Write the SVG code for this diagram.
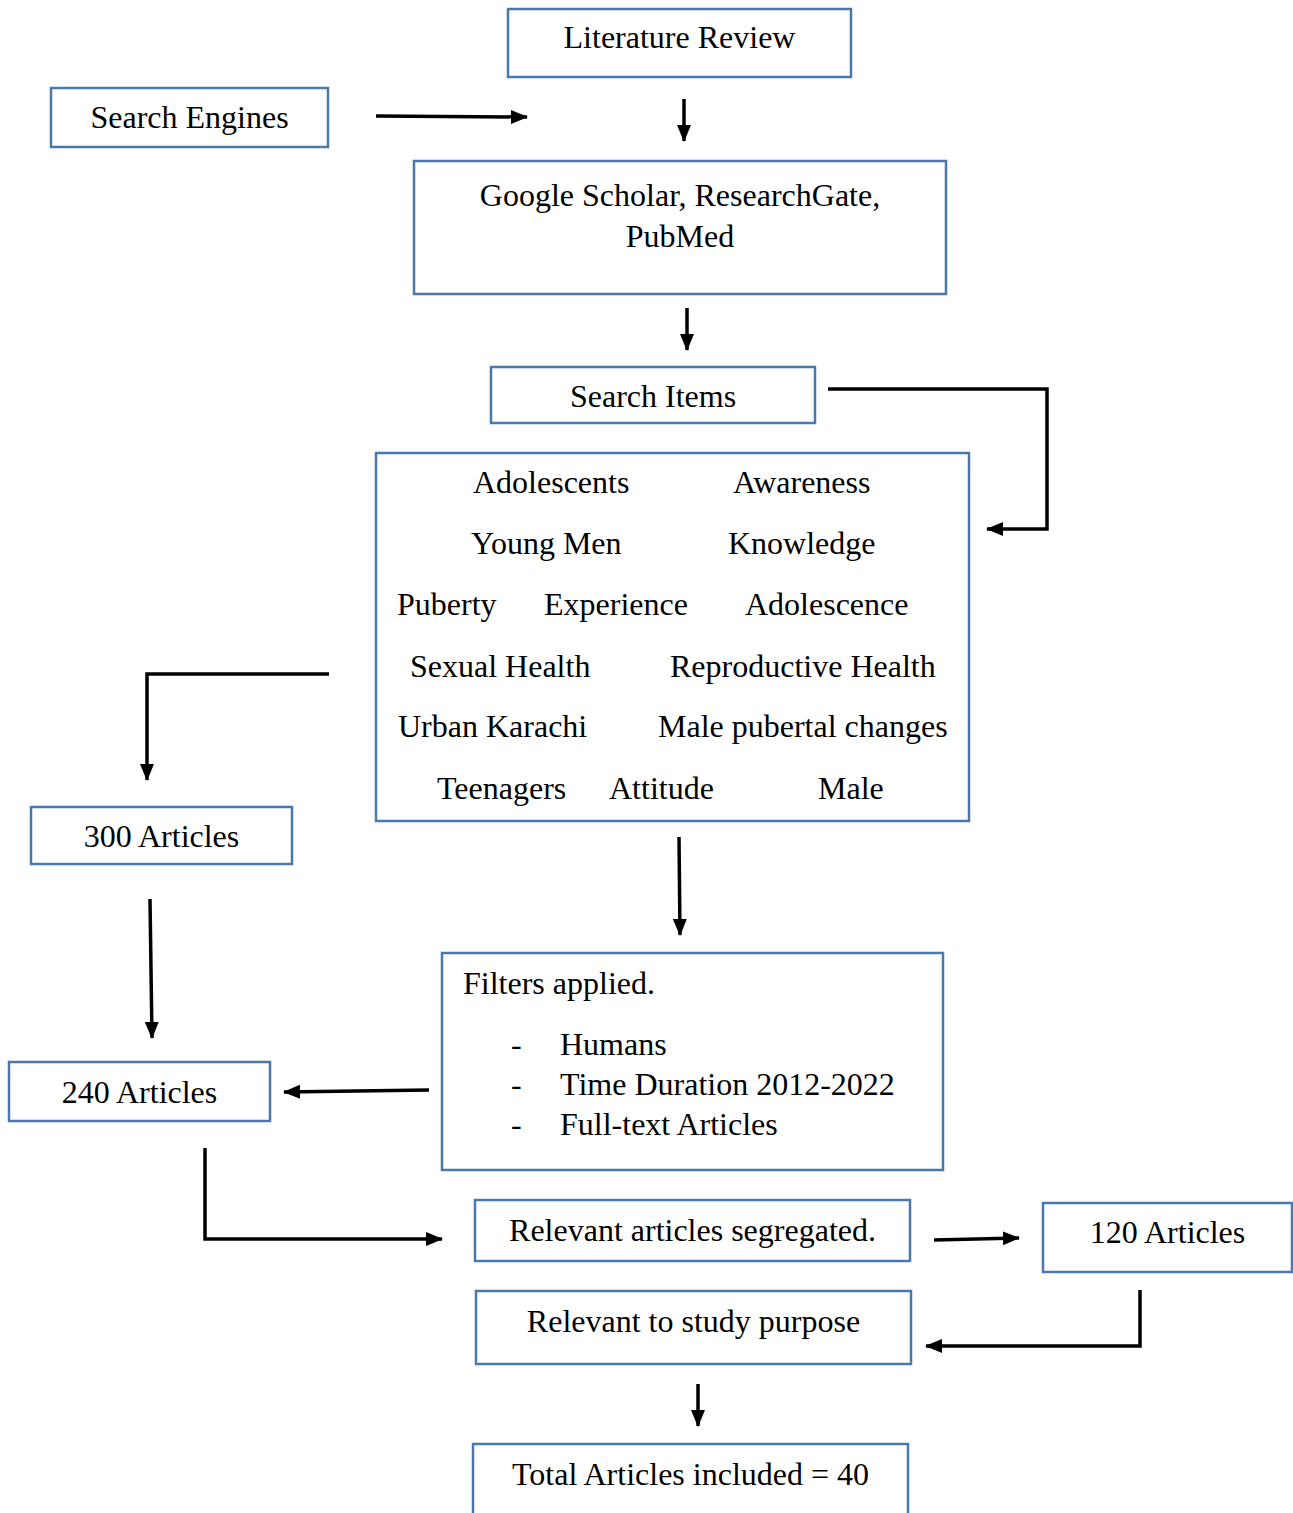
<svg xmlns="http://www.w3.org/2000/svg" width="1293" height="1513" viewBox="0 0 1293 1513">
<style>
.box{fill:#fff;stroke:#4a78ad;stroke-width:2.5}
text{font-family:"Liberation Serif","Times New Roman",serif;font-size:32px;fill:#000}
.c{text-anchor:middle}
.conn{fill:none;stroke:#000;stroke-width:3.5}
</style>
<defs>
<marker id="ah" markerUnits="userSpaceOnUse" markerWidth="18" markerHeight="16" refX="16" refY="8" orient="auto">
<path d="M0,1 L17,8 L0,15 Z" fill="#000"/>
</marker>
</defs>
<rect width="1293" height="1513" fill="#fff"/>
<g id="connectors">
<path class="conn" d="M376,116 L527,117" marker-end="url(#ah)"/>
<path class="conn" d="M684,99 L684,141" marker-end="url(#ah)"/>
<path class="conn" d="M687,308 L687,350" marker-end="url(#ah)"/>
<path class="conn" d="M828,389 L1047,389 L1047,529 L987,529" marker-end="url(#ah)"/>
<path class="conn" d="M329,674 L147,674 L147,780" marker-end="url(#ah)"/>
<path class="conn" d="M679,837 L680,935" marker-end="url(#ah)"/>
<path class="conn" d="M150,899 L152,1038" marker-end="url(#ah)"/>
<path class="conn" d="M429,1090 L284,1092" marker-end="url(#ah)"/>
<path class="conn" d="M205,1148 L205,1239 L442,1239" marker-end="url(#ah)"/>
<path class="conn" d="M934,1240 L1019,1238" marker-end="url(#ah)"/>
<path class="conn" d="M1140,1290 L1140,1346 L926,1346" marker-end="url(#ah)"/>
<path class="conn" d="M698,1384 L698,1426" marker-end="url(#ah)"/>
</g>
<g id="literature-review">
<rect class="box" x="508" y="9" width="343" height="68"/>
<text class="c" x="679.5" y="48">Literature Review</text>
</g>
<g id="search-engines">
<rect class="box" x="51" y="88" width="277" height="59"/>
<text class="c" x="189.5" y="128">Search Engines</text>
</g>
<g id="databases">
<rect class="box" x="414" y="161" width="532" height="133"/>
<text class="c" x="680" y="206">Google Scholar, ResearchGate,</text>
<text class="c" x="680" y="247">PubMed</text>
</g>
<g id="search-items">
<rect class="box" x="491" y="367" width="324" height="56"/>
<text class="c" x="653" y="407">Search Items</text>
</g>
<g id="terms">
<rect class="box" x="376" y="453" width="593" height="368"/>
<text x="473" y="493">Adolescents</text>
<text x="733" y="493">Awareness</text>
<text x="471" y="554">Young Men</text>
<text x="728" y="554">Knowledge</text>
<text x="397" y="615">Puberty</text>
<text x="544" y="615">Experience</text>
<text x="745" y="615">Adolescence</text>
<text x="410" y="677">Sexual Health</text>
<text x="670" y="677">Reproductive Health</text>
<text x="398" y="737">Urban Karachi</text>
<text x="658" y="737">Male pubertal changes</text>
<text x="437" y="799">Teenagers</text>
<text x="609" y="799">Attitude</text>
<text x="818" y="799">Male</text>
</g>
<g id="articles-300">
<rect class="box" x="31" y="807" width="261" height="57"/>
<text class="c" x="161.5" y="847">300 Articles</text>
</g>
<g id="filters">
<rect class="box" x="442" y="953" width="501" height="217"/>
<text x="463" y="994">Filters applied.</text>
<text x="511" y="1055">-</text>
<text x="560" y="1055">Humans</text>
<text x="511" y="1095">-</text>
<text x="560" y="1095">Time Duration 2012-2022</text>
<text x="511" y="1135">-</text>
<text x="560" y="1135">Full-text Articles</text>
</g>
<g id="articles-240">
<rect class="box" x="9" y="1062" width="261" height="59"/>
<text class="c" x="139.5" y="1103">240 Articles</text>
</g>
<g id="segregated">
<rect class="box" x="475" y="1200" width="435" height="61"/>
<text class="c" x="692.5" y="1241">Relevant articles segregated.</text>
</g>
<g id="articles-120">
<rect class="box" x="1043" y="1203" width="249" height="69"/>
<text class="c" x="1167.5" y="1243">120 Articles</text>
</g>
<g id="study-purpose">
<rect class="box" x="476" y="1291" width="435" height="73"/>
<text class="c" x="693.5" y="1332">Relevant to study purpose</text>
</g>
<g id="total">
<rect class="box" x="473" y="1444" width="435" height="100"/>
<text class="c" x="690.5" y="1485">Total Articles included = 40</text>
</g>
</svg>
